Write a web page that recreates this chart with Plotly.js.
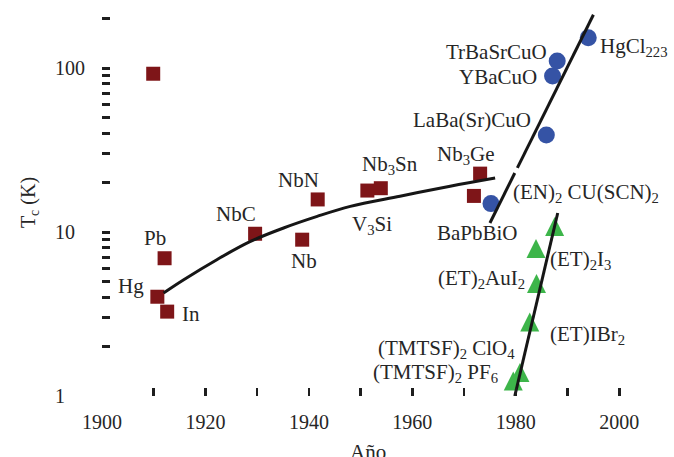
<!DOCTYPE html>
<html><head><meta charset="utf-8">
<script src="https://cdn.plot.ly/plotly-3.0.1.min.js"></script>
<style>html,body{margin:0;padding:0;background:#fff}</style>
</head><body><div id="chart" style="width:674px;height:457px"></div>
<script>
// ---- data (year, Tc in K) ----
const convYears = [1909.9, 1912.1, 1910.7, 1912.6, 1929.6, 1941.7, 1938.7, 1951.3, 1953.9, 1973.1, 1971.9];
const convTc    = [92.3,   6.92,   4.03,   3.27,   9.76,   15.8,   8.98,   17.9,   18.5,   22.7,   16.6];

const cupYears = [1975.2, 1985.9, 1987.1, 1988.0, 1994.0];
const cupTc    = [14.9,   39.0,   89.4,   110.3,  153];

const orgYears = [1987.5, 1983.9, 1984.0, 1982.7, 1980.8, 1979.5];
const orgTc    = [12.35,  9.06,   5.54,   3.23,   1.59,   1.41];

const curveYears = [1911.9, 1915.8, 1922.2, 1928.7, 1935.1, 1941.6, 1948.0, 1957.6, 1967.3, 1976.0];
const curveTc    = [4.25,   5.12,   6.78,   8.76,   10.58,  12.45,  14.33,  16.53,  19.02,  21.35];

const cupLineYears = [1975.0, 1979.8, null, 1980.3, 1995.0];
const cupLineTc    = [11.35,  22.9,   null, 24.6,   211.4];

const orgLineYears = [1979.8, 1988.1];
const orgLineTc    = [1.0,    13.06];

const xLabelYears = [1900, 1920, 1940, 1960, 1980, 2000];
const xTickYears  = [1910, 1920, 1930, 1940, 1950, 1960, 1970, 1980, 1990, 2000];
const yLabelVals  = [1, 10, 100];
const yLabelText  = ['1\u2007\u2007', '10\u2007', '100'];
const yTickVals   = [2,3,4,5,6,7,8,9,10,20,30,40,50,60,70,80,90,100,200];

// ---- layout helpers ----
const FONT = 'Liberation Serif, Times New Roman, serif';
const TXT = '#262626';
const W = 674, H = 457, L = 102, R = 3, T = 9, B = 61;
const pw = W - L - R, ph = H - T - B;
const px = x => (x - L) / pw;
const py = y => (H - B - y) / ph;

function lab(text, x, y, xanchor) {
  return {xref:'paper', yref:'paper', x:px(x), y:py(y), xanchor:xanchor||'center', yanchor:'middle',
          text:text, showarrow:false, borderpad:0, font:{family:FONT, size:21, color:TXT}};
}

const annotations = [
  lab('Hg', 145, 286, 'right'),
  lab('Pb', 154.5, 238),
  lab('In', 181, 314, 'left'),
  lab('NbC', 236, 214),
  lab('NbN', 298, 180),
  lab('Nb', 304, 261),
  lab('V<sub>3</sub>Si', 351, 225, 'left'),
  lab('Nb<sub>3</sub>Sn', 390, 165),
  lab('Nb<sub>3</sub>Ge', 466, 155),
  lab('BaPbBiO', 477.5, 233),
  lab('(EN)<sub>2</sub> CU(SCN)<sub>2</sub>', 512, 193, 'left'),
  lab('(ET)<sub>2</sub>I<sub>3</sub>', 549, 260, 'left'),
  lab('(ET)<sub>2</sub>AuI<sub>2</sub>', 526, 279, 'right'),
  lab('(ET)IBr<sub>2</sub>', 549, 335, 'left'),
  lab('(TMTSF)<sub>2</sub> ClO<sub>4</sub>', 516, 349, 'right'),
  lab('(TMTSF)<sub>2</sub> PF<sub>6</sub>', 499, 373, 'right'),
  lab('LaBa(Sr)CuO', 532, 120, 'right'),
  lab('YBaCuO', 538, 77, 'right'),
  lab('TrBaSrCuO', 548, 52, 'right'),
  lab('HgCl<sub>223</sub>', 599, 47, 'left'),
  {xref:'paper', yref:'paper', x:px(368), y:py(438), xanchor:'center', yanchor:'top',
   text:'Año', showarrow:false, font:{family:FONT, size:21, color:TXT}}
];

const lineStyle = {color:'#161616', width:3};
const data = [
  {x:convYears, y:convTc, type:'scatter', mode:'markers', marker:{symbol:'square', size:14, color:'#7e1518'}},
  {x:cupYears, y:cupTc, type:'scatter', mode:'markers', marker:{symbol:'circle', size:17, color:'#3553a5'}},
  {x:orgYears, y:orgTc, type:'scatter', mode:'markers', marker:{symbol:'arrow-up', size:19, color:'#3db54a', line:{width:0}}},
  {x:curveYears, y:curveTc, type:'scatter', mode:'lines', line:Object.assign({shape:'spline', smoothing:1}, lineStyle)},
  {x:cupLineYears, y:cupLineTc, type:'scatter', mode:'lines', line:lineStyle, connectgaps:false},
  // drawn on the overlaid tick axes (same ranges) so those axes are rendered
  {x:orgLineYears, y:orgLineTc, type:'scatter', mode:'lines', line:lineStyle, xaxis:'x2', yaxis:'y2'}
];

const tickFont = {family:FONT, size:20, color:TXT};
const layout = {
  width:W, height:H, margin:{l:L, r:R, t:T, b:B},
  paper_bgcolor:'#fff', plot_bgcolor:'#fff', showlegend:false,
  font:{family:FONT, color:TXT},
  xaxis:{range:[1900, 2010], tickmode:'array', tickvals:xLabelYears, ticktext:xLabelYears.map(String),
         ticks:'', showgrid:false, zeroline:false, showline:false, tickfont:tickFont, ticklabelstandoff:12},
  xaxis2:{overlaying:'x', anchor:'y2', side:'bottom', range:[1900, 2010], tickmode:'array', tickvals:xTickYears,
          ticks:'inside', ticklen:8, tickwidth:2.5, tickcolor:'#1e1e1e', showticklabels:false,
          showgrid:false, zeroline:false, showline:false},
  yaxis:{type:'log', range:[0, 2.36], tickmode:'array', tickvals:yLabelVals, ticktext:yLabelText,
         ticks:'', showgrid:false, zeroline:false, showline:false, tickfont:tickFont, ticklabelstandoff:16,
         title:{text:'T<sub>c</sub> (K)', font:{family:FONT, size:20, color:TXT}, standoff:14}},
  yaxis2:{type:'log', overlaying:'y', anchor:'x2', side:'left', range:[0, 2.36], tickmode:'array', tickvals:yTickVals,
          ticks:'inside', ticklen:8, tickwidth:3, tickcolor:'#1e1e1e', showticklabels:false,
          showgrid:false, zeroline:false, showline:false},
  annotations:annotations
};

Plotly.newPlot('chart', data, layout, {staticPlot:true, displayModeBar:false});
</script>
</body></html>
